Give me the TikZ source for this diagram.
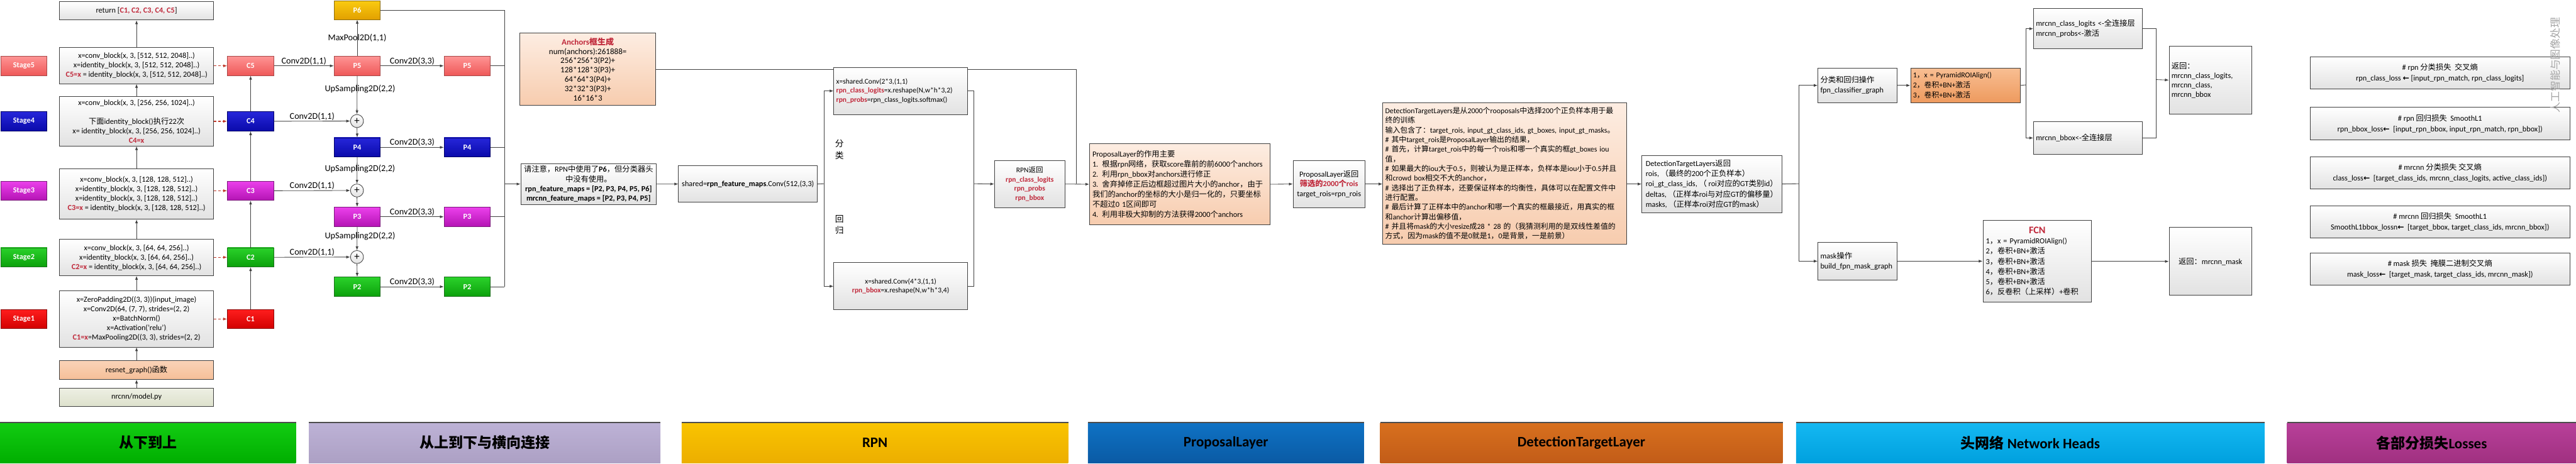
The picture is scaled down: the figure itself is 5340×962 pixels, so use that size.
\documentclass[tikz,border=0pt]{standalone}
\usepackage{fontspec}
\setmainfont{Carlito}
\newfontfamily\cjk{Noto Sans CJK SC}
\newfontfamily\dejavu{DejaVu Sans}
\usetikzlibrary{arrows.meta}
\newcount\cjkcnt
\newcommand{\setcjkrange}[2]{\cjkcnt=#1\relax
  \loop\XeTeXcharclass\cjkcnt=1\relax
  \ifnum\cjkcnt<#2\relax\advance\cjkcnt by 1\relax\repeat}
\setcjkrange{"3000}{"303F}
\setcjkrange{"4E00}{"9FFF}
\setcjkrange{"FF00}{"FFEF}
\XeTeXinterchartoks 0 1 = {\begingroup\cjk}
\XeTeXinterchartoks 4095 1 = {\begingroup\cjk}
\XeTeXinterchartoks 1 0 = {\endgroup}
\XeTeXinterchartoks 1 4095 = {\endgroup}
\XeTeXinterchartokenstate=1
\definecolor{linec}{HTML}{404040}
\definecolor{boxgray}{HTML}{E2E2E2}
\definecolor{dred}{HTML}{C0283A}
\definecolor{dashr}{HTML}{C0392B}
\definecolor{peT}{HTML}{FDEDE2}
\definecolor{peB}{HTML}{F7CCAE}
\definecolor{reT}{HTML}{FAD3B8}
\definecolor{reB}{HTML}{F5BF98}
\definecolor{moT}{HTML}{EEF0E4}
\definecolor{moB}{HTML}{DDE1CC}
\definecolor{pyT}{HTML}{F8BE92}
\definecolor{pyB}{HTML}{EE9A5E}
\definecolor{rdT}{HTML}{FF9494}\definecolor{rdB}{HTML}{EE5858}\definecolor{rdD}{HTML}{A84848}
\definecolor{blT}{HTML}{2626DA}\definecolor{blB}{HTML}{0A0AAA}\definecolor{blD}{HTML}{000066}
\definecolor{mgT}{HTML}{EC40EC}\definecolor{mgB}{HTML}{B414B4}\definecolor{mgD}{HTML}{7A1A7A}
\definecolor{grT}{HTML}{2AD22A}\definecolor{grB}{HTML}{0CA00C}\definecolor{grD}{HTML}{1C6E1C}
\definecolor{roT}{HTML}{FF1E1E}\definecolor{roB}{HTML}{D20000}\definecolor{roD}{HTML}{8A0A0A}
\definecolor{gdT}{HTML}{FACB10}\definecolor{gdB}{HTML}{E2A000}\definecolor{gdD}{HTML}{8E6E10}
\definecolor{bgT}{HTML}{12CC12}\definecolor{bgB}{HTML}{00AE00}
\definecolor{bpT}{HTML}{BDB2D6}\definecolor{bpB}{HTML}{ACA0C4}
\definecolor{byT}{HTML}{F9C400}\definecolor{byB}{HTML}{ECAE00}
\definecolor{bbT}{HTML}{0F72C4}\definecolor{bbB}{HTML}{0A5AA4}
\definecolor{boT}{HTML}{D8701E}\definecolor{boB}{HTML}{C25C18}
\definecolor{bcT}{HTML}{14B8F2}\definecolor{bcB}{HTML}{00A0DE}
\definecolor{bmT}{HTML}{B8409A}\definecolor{bmB}{HTML}{A03080}
\newcommand{\rb}[1]{\textbf{\textcolor{dred}{#1}}}
\newcommand{\la}{{\dejavu\bfseries ←}}
\newcommand{\fsA}{\fontsize{16}{19.5}\selectfont}
\newcommand{\fsL}{\fontsize{18.5}{21}\selectfont}
\newcommand{\fsB}{\fontsize{16}{19}\selectfont\bfseries}
\begin{document}
\begin{tikzpicture}[x=1pt,y=-1pt,
  gbox/.style={anchor=north west, draw=linec, line width=1.1pt, top color=white, bottom color=boxgray, inner sep=4pt, align=center, font=\fsA, text=black},
  pbox/.style={gbox, top color=peT, bottom color=peB},
  cbox/.style={anchor=north west, draw=#1D, line width=1pt, top color=#1T, bottom color=#1B, text=white, font=\fsB, minimum width=96pt, minimum height=40pt, inner sep=0pt},
  arr/.style={draw=linec, line width=1.1pt, -{Latex[length=8pt,width=6pt]}},
  ln/.style={draw=linec, line width=1.1pt},
  darr/.style={draw=dashr, line width=1.6pt, dash pattern=on 5pt off 4pt, -{Latex[length=8pt,width=6pt]}},
  lab/.style={font=\fsL, text=black, inner sep=1.5pt},
  plusnode/.style={circle, draw=linec, line width=1.1pt, top color=white, bottom color=boxgray, minimum size=27pt, inner sep=0pt, font=\fontsize{22}{22}\selectfont},
  banner/.style={anchor=north west, minimum height=84pt, top color=#1T, bottom color=#1B, inner sep=0pt, font=\fontsize{30}{32}\selectfont\bfseries, text=black},
  lossbox/.style={gbox, minimum width=539pt, minimum height=67pt, font=\fontsize{16}{22}\selectfont},
]
\fill[white] (0,0) rectangle (5340,962);
\useasboundingbox (0,0) rectangle (5340,962);

% ---------- stages ----------
\node[cbox=rd] (s5) at (1,116) {Stage5};
\node[cbox=bl] (s4) at (1,231) {Stage4};
\node[cbox=mg] (s3) at (1,375) {Stage3};
\node[cbox=gr] (s2) at (1,513) {Stage2};
\node[cbox=ro] (s1) at (1,641) {Stage1};

% ---------- backbone column ----------
\node[gbox, minimum width=319pt, minimum height=38pt] (ret) at (123,3) {return [\rb{C1, C2, C3, C4, C5}]};
\node[gbox, minimum width=319pt, minimum height=75pt] (conv5) at (123,98) {x=conv\_block(x, 3, [512, 512, 2048]..)\\x=identity\_block(x, 3, [512, 512, 2048]..)\\\rb{C5=x} = identity\_block(x, 3, [512, 512, 2048]..)};
\node[gbox, minimum width=319pt, minimum height=102pt] (conv4) at (123,200) {x=conv\_block(x, 3, [256, 256, 1024]..)\\[19.5pt]下面identity\_block()执行22次\\x= identity\_block(x, 3, [256, 256, 1024]..)\\\rb{C4=x}};
\node[gbox, minimum width=319pt, minimum height=104pt] (conv3) at (123,350) {x=conv\_block(x, 3, [128, 128, 512]..)\\x=identity\_block(x, 3, [128, 128, 512]..)\\x=identity\_block(x, 3, [128, 128, 512]..)\\\rb{C3=x} = identity\_block(x, 3, [128, 128, 512]..)};
\node[gbox, minimum width=319pt, minimum height=75pt] (conv2) at (123,496) {x=conv\_block(x, 3, [64, 64, 256]..)\\x=identity\_block(x, 3, [64, 64, 256]..)\\\rb{C2=x} = identity\_block(x, 3, [64, 64, 256]..)};
\node[gbox, minimum width=319pt, minimum height=117pt] (conv1) at (123,602) {x=ZeroPadding2D((3, 3))(input\_image)\\x=Conv2D(64, (7, 7), strides=(2, 2)\\x=BatchNorm()\\x=Activation('relu')\\\rb{C1=x}=MaxPooling2D((3, 3), strides=(2, 2)};
\node[gbox, top color=reT, bottom color=reB, minimum width=319pt, minimum height=39pt] (resnet) at (123,747) {resnet\_graph()函数};
\node[gbox, top color=moT, bottom color=moB, minimum width=319pt, minimum height=38pt] (model) at (123,804) {nrcnn/model.py};

\draw[arr] (model.north) -- (resnet.south);
\draw[arr] (resnet.north) -- (conv1.south);
\draw[arr] (conv1.north) -- (conv2.south);
\draw[arr] (conv2.north) -- (conv3.south);
\draw[arr] (conv3.north) -- (conv4.south);
\draw[arr] (conv4.north) -- (conv5.south);
\draw[arr] (conv5.north) -- (ret.south);

% ---------- C column ----------
\node[cbox=rd] (c5) at (471,116) {C5};
\node[cbox=bl] (c4) at (471,231) {C4};
\node[cbox=mg] (c3) at (471,375) {C3};
\node[cbox=gr] (c2) at (471,513) {C2};
\node[cbox=ro] (c1) at (471,641) {C1};
\draw[darr] (conv5.east |- c5.west) -- (c5.west);
\draw[darr] (conv4.east |- c4.west) -- (c4.west);
\draw[darr] (conv3.east |- c3.west) -- (c3.west);
\draw[darr] (conv2.east |- c2.west) -- (c2.west);
\draw[darr] (conv1.east |- c1.west) -- (c1.west);
\draw[arr] (c1.north) -- (c2.south);
\draw[arr] (c2.north) -- (c3.south);
\draw[arr] (c3.north) -- (c4.south);
\draw[arr] (c4.north) -- (c5.south);

% ---------- P column ----------
\node[cbox=gd, minimum height=39pt] (p6) at (692,1) {P6};
\node[cbox=rd] (p5) at (692,116) {P5};
\node[plusnode] (pl1) at (740,251) {+};
\node[cbox=bl] (p4) at (692,285) {P4};
\node[plusnode] (pl2) at (740,395) {+};
\node[cbox=mg] (p3) at (692,429) {P3};
\node[plusnode] (pl3) at (740,533) {+};
\node[cbox=gr] (p2) at (692,574) {P2};
\node[cbox=rd] (q5) at (920,116) {P5};
\node[cbox=bl] (q4) at (920,285) {P4};
\node[cbox=mg] (q3) at (920,429) {P3};
\node[cbox=gr] (q2) at (920,574) {P2};

\draw[arr] (c5.east) -- node[lab, above] (t1) {Conv2D(1,1)} (p5.west);
\draw[arr] (c4.east) -- node[lab, above] (t2) {Conv2D(1,1)} (pl1.west);
\draw[arr] (c3.east) -- node[lab, above] (t3) {Conv2D(1,1)} (pl2.west);
\draw[arr] (c2.east) -- node[lab, above] (t4) {Conv2D(1,1)} (pl3.west);
\draw[arr] (p5.north) -- node[lab] (t5) {MaxPool2D(1,1)} (p6.south);
\draw[arr] (p5.south) -- node[lab, pos=0.35, xshift=6pt] (t6) {UpSampling2D(2,2)} (pl1.north);
\draw[arr] (pl1.south) -- (p4.north);
\draw[arr] (p4.south) -- node[lab, pos=0.44, xshift=6pt] (t7) {UpSampling2D(2,2)} (pl2.north);
\draw[arr] (pl2.south) -- (p3.north);
\draw[arr] (p3.south) -- node[lab, pos=0.41, xshift=6pt] (t8) {UpSampling2D(2,2)} (pl3.north);
\draw[arr] (pl3.south) -- (p2.north);
\draw[arr] (p5.east) -- node[lab, above] (t9) {Conv2D(3,3)} (q5.west);
\draw[arr] (p4.east) -- node[lab, above] (t10) {Conv2D(3,3)} (q4.west);
\draw[arr] (p3.east) -- node[lab, above] (t11) {Conv2D(3,3)} (q3.west);
\draw[arr] (p2.east) -- node[lab, above] (t12) {Conv2D(3,3)} (q2.west);

\coordinate (busB) at (1046,594);
\draw[ln] (p6.east) -| (busB);
\draw[ln] (q5.east) -- (q5.east -| busB);
\draw[ln] (q4.east) -- (q4.east -| busB);
\draw[ln] (q3.east) -- (q3.east -| busB);
\draw[ln] (q2.east) -- (q2.east -| busB);

% ---------- anchors / caller / shared ----------
\node[pbox, minimum width=282pt, minimum height=150pt, font=\fontsize{17}{19.3}\selectfont] (anchors) at (1077,68) {\rb{Anchors框生成}\\num(anchors):261888=\\256*256*3(P2)+\\128*128*3(P3)+\\64*64*3(P4)+\\32*32*3(P3)+\\16*16*3};
\node[gbox, minimum width=281pt, minimum height=83pt, font=\fontsize{16}{20}\selectfont] (caller) at (1079,339) {请注意，RPN中使用了\textbf{P6}，但分类器头\\中没有使用。\\\textbf{rpn\_feature\_maps = [P2, P3, P4, P5, P6]}\\\textbf{mrcnn\_feature\_maps = [P2, P3, P4, P5]}};
\draw[arr] (caller.west -| busB) -- (caller.west);
\node[gbox, minimum width=288pt, minimum height=76pt] (shared) at (1406,343) {shared=\textbf{rpn\_feature\_maps}.Conv(512,(3,3)};
\draw[arr] (caller.east) -- (shared.west);

\coordinate (ancJ) at (2231,381);
\draw[ln] (anchors.east) -| (ancJ);

% ---------- RPN ----------
\node[gbox, align=left, text width=267pt, minimum width=277pt, minimum height=98pt, font=\fontsize{15}{19}\selectfont] (rpnc) at (1728,139) {x=shared.Conv(2*3,(1,1)\\\rb{rpn\_class\_logits}=x.reshape(N,w*h*3,2)\\\rb{rpn\_probs}=rpn\_class\_logits.softmax()};
\node[gbox, minimum width=277pt, minimum height=98pt, font=\fontsize{15}{19}\selectfont] (rpnb) at (1728,544) {x=shared.Conv(4*3,(1,1)\\\rb{rpn\_bbox}=x.reshape(N,w*h*3,4)};
\coordinate (split) at (1708,381);
\draw[ln] (shared.east) -- (split);
\draw[arr] (split) |- (rpnc.west);
\draw[arr] (split) |- (rpnb.west);
\node[font=\fontsize{18}{24}\selectfont, align=center] (fenlei) at (1740,310) {分\\类};
\node[font=\fontsize{18}{24}\selectfont, align=center] (huigui) at (1740,466) {回\\归};
\node[gbox, minimum width=146pt, minimum height=98pt, font=\fontsize{15}{19.5}\selectfont] (rpn) at (2061,332) {RPN返回\\\rb{rpn\_class\_logits}\\\rb{rpn\_probs}\\\rb{rpn\_bbox}};
\coordinate (merge) at (2019,381);
\draw[ln] (rpnc.east) -| (merge);
\draw[ln] (rpnb.east) -| (merge);
\draw[arr] (merge) -- (rpn.west);

% ---------- ProposalLayer ----------
\node[pbox, align=left, text width=362pt, minimum width=374pt, minimum height=169pt, font=\fontsize{16}{20.8}\selectfont] (pl) at (2258,297) {ProposalLayer的作用主要\\1. 根据rpn网络，获取score靠前的前6000个anchors\\2. 利用rpn\_bbox对anchors进行修正\\3. 舍弃掉修正后边框超过图片大小的anchor，由于\\我们的anchor的坐标的大小是归一化的，只要坐标\\不超过0 1区间即可\\4. 利用非极大抑制的方法获得2000个anchors};
\draw[arr] (rpn.east) -- (pl.west);
\node[gbox, minimum width=149pt, minimum height=98pt, font=\fontsize{16}{20}\selectfont] (plo) at (2680,332) {ProposalLayer返回\\\rb{筛选的2000个rois}\\target\_rois=rpn\_rois};
\draw[arr] (pl.east) -- (plo.west);

% ---------- DetectionTargetLayer ----------
\node[pbox, align=left, text width=496pt, minimum width=506pt, minimum height=294pt, inner xsep=5pt, font=\fontsize{15.5}{20}\selectfont] (dtl) at (2866,212) {DetectionTargetLayers是从2000个rooposals中选择200个正负样本用于最\\终的训练\\输入包含了：target\_rois, input\_gt\_class\_ids, gt\_boxes, input\_gt\_masks。\\\# 其中target\_rois是ProposalLayer输出的结果，\\\# 首先，计算target\_rois中的每一个rois和哪一个真实的框gt\_boxes iou\\值，\\\# 如果最大的iou大于0.5，则被认为是正样本，负样本是iou小于0.5并且\\和crowd box相交不大的anchor，\\\# 选择出了正负样本，还要保证样本的均衡性，具体可以在配置文件中\\进行配置。\\\# 最后计算了正样本中的anchor和哪一个真实的框最接近，用真实的框\\和anchor计算出偏移值，\\\# 并且将mask的大小resize成28 * 28 的（我猜测利用的是双线性差值的\\方式，因为mask的值不是0就是1，0是背景，一是前景）};
\draw[arr] (plo.east) -- (plo.east -| dtl.west);
\node[gbox, align=left, minimum width=290pt, minimum height=118pt, font=\fontsize{16}{21}\selectfont] (dtlo) at (3403,322) {DetectionTargetLayers返回\\rois, （最终的200个正负样本）\\roi\_gt\_class\_ids, （ roi对应的GT类别id）\\deltas, （正样本roi与对应GT的偏移量）\\masks, （正样本roi对应GT的mask）};
\draw[arr] (dtlo.west -| dtl.east) -- (dtlo.west);

% ---------- Heads ----------
\node[gbox, align=left, text width=154pt, minimum width=164pt, minimum height=71pt, font=\fontsize{16}{21}\selectfont] (fpn) at (3768,141) {分类和回归操作\\fpn\_classifier\_graph};
\node[gbox, align=left, text width=154pt, minimum width=164pt, minimum height=78pt, font=\fontsize{16}{21}\selectfont] (mask) at (3768,502) {mask操作\\build\_fpn\_mask\_graph};
\coordinate (split2) at (3729,381);
\draw[ln] (dtlo.east) -- (split2);
\draw[arr] (split2) |- (fpn.west);
\draw[arr] (split2) |- (mask.west);
\node[gbox, top color=pyT, bottom color=pyB, align=left, text width=217pt, minimum width=227pt, minimum height=71pt, font=\fontsize{15.5}{21}\selectfont] (pyr) at (3960,141) {1，x = PyramidROIAlign()\\2，卷积+BN+激活\\3，卷积+BN+激活};
\draw[arr] (fpn.east) -- (pyr.west);
\node[gbox, align=left, text width=216pt, minimum width=226pt, minimum height=84pt, font=\fontsize{16}{21}\selectfont] (mcl) at (4215,17) {mrcnn\_class\_logits <-全连接层\\mrcnn\_probs<-激活};
\node[gbox, align=left, text width=216pt, minimum width=226pt, minimum height=69pt, font=\fontsize{16}{21}\selectfont] (mbb) at (4215,251) {mrcnn\_bbox<-全连接层};
\coordinate (split3) at (4200,176);
\draw[ln] (pyr.east) -- (split3);
\draw[arr] (split3) |- (mcl.west);
\draw[arr] (split3) |- (mbb.west);
\node[gbox, align=left, text width=161pt, minimum width=171pt, minimum height=141pt, font=\fontsize{16}{19.5}\selectfont] (ret1) at (4496,95) {返回：\\mrcnn\_class\_logits,\\mrcnn\_class,\\mrcnn\_bbox};
\coordinate (merge3) at (4469,165);
\draw[ln] (mcl.east) -| (merge3);
\draw[ln] (mbb.east) -| (merge3);
\draw[arr] (merge3) -- (ret1.west);
\node[gbox, align=left, text width=213pt, minimum width=225pt, minimum height=170pt, font=\fontsize{16}{21}\selectfont] (fcn) at (4110,456) {\makebox[213pt][c]{\fontsize{21}{21}\selectfont\rb{FCN}}\\1，x = PyramidROIAlign()\\2，卷积+BN+激活\\3，卷积+BN+激活\\4，卷积+BN+激活\\5，卷积+BN+激活\\6，反卷积（上采样）+卷积};
\draw[arr] (mask.east) -- (fcn.west);
\node[gbox, minimum width=171pt, minimum height=141pt] (ret2) at (4496,471) {返回：mrcnn\_mask};
\draw[arr] (fcn.east) -- (ret2.west -| fcn.east) -- (ret2.west);

% ---------- Losses ----------
\node[lossbox] (l1) at (4788,117) {\# rpn 分类损失~~交叉熵\\rpn\_class\_loss \la{} [input\_rpn\_match, rpn\_class\_logits]};
\node[lossbox] (l2) at (4788,222) {\# rpn 回归损失~~SmoothL1\\rpn\_bbox\_loss\la{}~~[input\_rpn\_bbox, input\_rpn\_match, rpn\_bbox])};
\node[lossbox] (l3) at (4788,324) {\# mrcnn 分类损失 交叉熵\\class\_loss\la{}~~[target\_class\_ids, mrcnn\_class\_logits, active\_class\_ids])};
\node[lossbox] (l4) at (4788,426) {\# mrcnn 回归损失~~SmoothL1\\SmoothL1bbox\_lossn\la{}~~[target\_bbox, target\_class\_ids, mrcnn\_bbox])};
\node[lossbox] (l5) at (4788,524) {\# mask 损失~~掩膜二进制交叉熵\\mask\_loss\la{}~~[target\_mask, target\_class\_ids, mrcnn\_mask])};
\node[rotate=90, text=black!35, font=\fontsize{22}{22}\selectfont] (wm) at (5297,135) {人工智能与图像处理};

% ---------- banners ----------
\node[banner=bg, minimum width=613pt] (b1) at (0,876) {从下到上};
\node[banner=bp, minimum width=729pt] (b2) at (640,876) {从上到下与横向连接};
\node[banner=by, minimum width=801pt] (b3) at (1413,876) {RPN};
\node[banner=bb, minimum width=572pt] (b4) at (2255,876) {ProposalLayer};
\node[banner=bo, minimum width=834pt] (b5) at (2861,876) {DetectionTargetLayer};
\node[banner=bc, minimum width=971pt] (b6) at (3723,876) {头网络 Network Heads};
\node[banner=bm, minimum width=599pt] (b7) at (4741,876) {各部分损失Losses};
\foreach \b in {b1,b2,b3,b4,b5,b6,b7}{\draw[line width=2pt, black!70] (\b.north west) -- (\b.north east);}
\end{tikzpicture}
\end{document}
